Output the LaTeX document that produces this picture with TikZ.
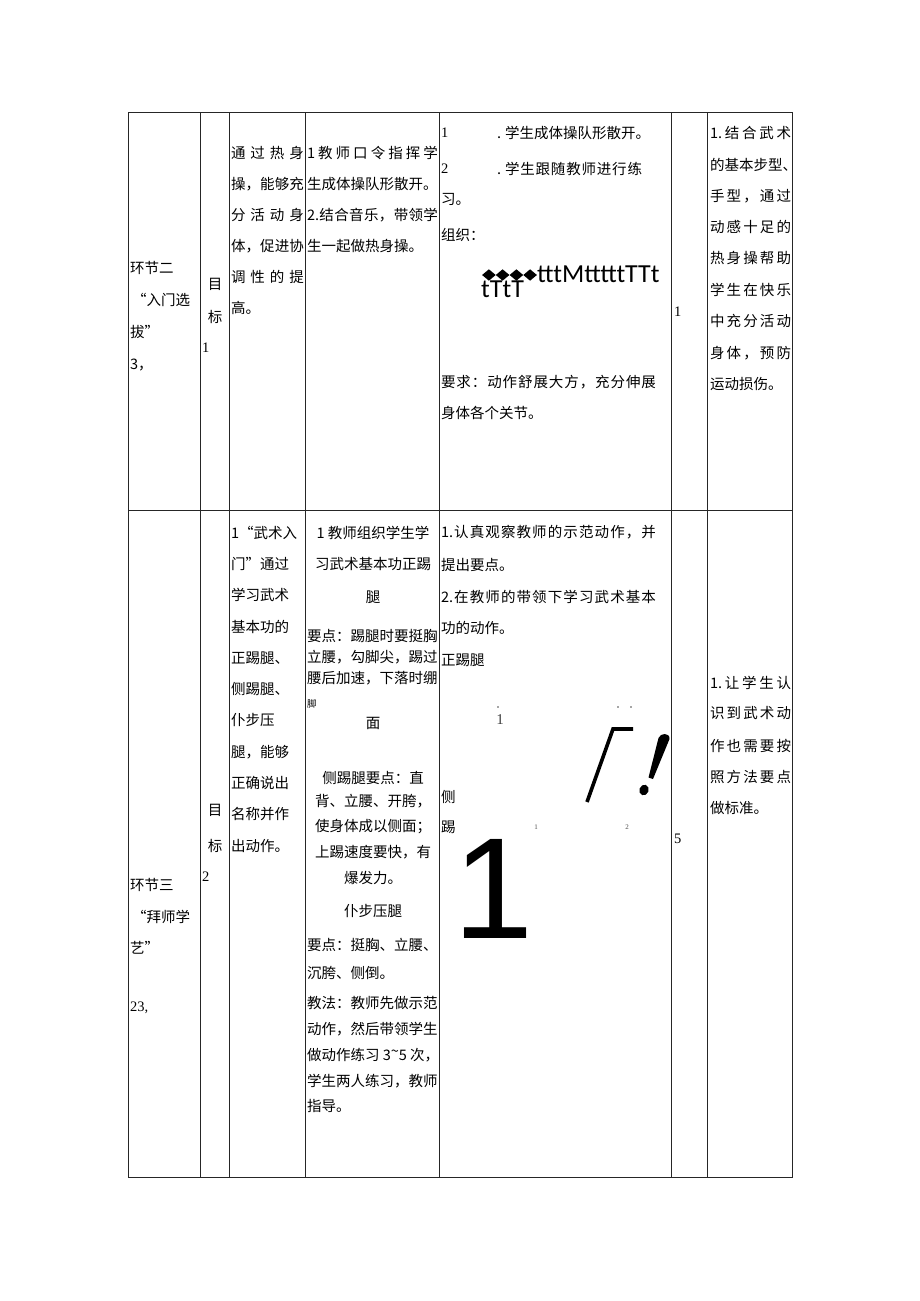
\documentclass[tikz,border=0pt]{standalone}
\usepackage{fontspec}
\setmainfont{Liberation Serif}
\newfontfamily\cjk{Noto Sans CJK SC}
\newfontfamily\carl{Carlito}
\newfontfamily\lsans{Liberation Sans}
\newcommand\cjkf{\cjk\fontsize{14.5}{14.5}\selectfont}
\def\mygob#1{}
\def\sprdA#1{#1\futurelet\nxt\sprdB}
\def\sprdB{\ifx\nxt\relax\expandafter\mygob\else\hfil\expandafter\sprdA\fi}
\newcommand\sprd[2]{\hbox to #1{\sprdA#2\relax}}
\tikzset{
  t/.style={anchor=base west, inner sep=0pt, outer sep=0pt, font=\cjkf, yshift=-5.5pt},
  tc/.style={anchor=base, inner sep=0pt, outer sep=0pt, font=\cjkf, yshift=-5.5pt},
  dg/.style={anchor=base west, inner sep=0pt, outer sep=0pt, font=\fontsize{14.5}{14.5}\selectfont, yshift=-4.8pt},
  tiny/.style={anchor=base, inner sep=0pt, outer sep=0pt, font=\fontsize{7}{7}\selectfont, text=black!70},
  grid/.style={line width=0.9pt, draw=black!85},
}
\begin{document}
\begin{tikzpicture}[x=1pt,y=-1pt]
\useasboundingbox[fill=white] (0,0) rectangle (920,1301);
% table
\draw[grid] (128,112) rectangle (792,1177);
\foreach \xx in {200.5,229.5,305.5,439,671.5,707.5}
  \draw[grid] (\xx,112) -- (\xx,1177);
\draw[grid] (128,510.7) -- (792,510.7);

% ---------- row 1 ----------
\node[t] (a1) at (130,268) {环节二};
\node[t] (a2) at (132,300) {“入门选};
\node[t] (a3) at (130,332) {拔”};
\node[t] (a4) at (130,364) {3，};
\node[tc] (b1) at (215,284) {目};
\node[tc] (b2) at (215,317) {标};
\node[dg] (b3) at (202,348) {1};
\node[t] (c1) at (231,153) {\sprd{73pt}{通过热身}};
\node[t] (c2) at (231,184) {\sprd{73pt}{操，能够充}};
\node[t] (c3) at (231,215) {\sprd{73pt}{分活动身}};
\node[t] (c4) at (231,246) {\sprd{73pt}{体，促进协}};
\node[t] (c5) at (231,277) {\sprd{73pt}{调性的提}};
\node[t] (c6) at (231,308) {高。};
\node[t] (d1) at (307,153) {\sprd{131pt}{1教师口令指挥学}};
\node[t] (d2) at (307,184) {生成体操队形散开。};
\node[t] (d3) at (307,215) {\sprd{131pt}{{2.}结合音乐，带领学}};
\node[t] (d4) at (307,246) {生一起做热身操。};
\node[dg] (e1) at (441,133) {1};
\node[t] (e2) at (497,133) {.\hspace{4pt}学生成体操队形散开。};
\node[dg] (e3) at (441,169) {2};
\node[t] (e4) at (497,169) {.\hspace{4pt}\sprd{137pt}{学生跟随教师进行练}};
\node[t] (e5) at (441,199) {习。};
\node[t] (e6) at (441,235) {组织：};
\foreach \cx in {488.9,502.6,516.4,530.1}
  \fill ({\cx-6.8},275) -- (\cx,269.3) -- ({\cx+6.8},275) -- (\cx,280.7) -- cycle;
\node[anchor=base west, inner sep=0pt, font=\carl\fontsize{26}{26}\selectfont] (e7) at (537,282) {tttMtttttTTt};
\node[anchor=base west, inner sep=0pt, font=\carl\fontsize{26}{26}\selectfont] (e8) at (481,297) {tTtT};
\node[t] (e9) at (441,382) {\sprd{215pt}{要求：动作舒展大方，充分伸展}};
\node[t] (e10) at (441,413) {身体各个关节。};
\node[dg] (f1) at (674,312) {1};
\node[t] (g1) at (710,133) {\sprd{81pt}{{1.}结合武术}};
\node[t] (g2) at (710,165) {的基本步型、};
\node[t] (g3) at (710,196) {\sprd{81pt}{手型，通过}};
\node[t] (g4) at (710,227) {\sprd{81pt}{动感十足的}};
\node[t] (g5) at (710,258) {\sprd{81pt}{热身操帮助}};
\node[t] (g6) at (710,290) {\sprd{81pt}{学生在快乐}};
\node[t] (g7) at (710,321) {\sprd{81pt}{中充分活动}};
\node[t] (g8) at (710,353) {\sprd{81pt}{身体，预防}};
\node[t] (g9) at (710,384) {运动损伤。};

% ---------- row 2 ----------
\node[t] (h1) at (130,885) {环节三};
\node[t] (h2) at (132,917) {“拜师学};
\node[t] (h3) at (130,948) {艺”};
\node[dg] (h4) at (130,1007) {23,};
\node[tc] (i1) at (215,810) {目};
\node[tc] (i2) at (215,846) {标};
\node[dg] (i3) at (202,877) {2};
\node[t] (j1) at (231,533) {1“武术入};
\node[t] (j2) at (231,564) {门”通过};
\node[t] (j3) at (231,595) {学习武术};
\node[t] (j4) at (231,627) {基本功的};
\node[t] (j5) at (231,658) {正踢腿、};
\node[t] (j6) at (231,689) {侧踢腿、};
\node[t] (j7) at (231,720) {仆步压};
\node[t] (j8) at (231,752) {腿，能够};
\node[t] (j9) at (231,783) {正确说出};
\node[t] (j10) at (231,814) {名称并作};
\node[t] (j11) at (231,846) {出动作。};
\node[tc] (k1) at (373,533) {1 教师组织学生学};
\node[tc] (k2) at (373,564) {习武术基本功正踢};
\node[tc] (k3) at (373,597) {腿};
\node[t] (k4) at (307,636) {要点：踢腿时要挺胸};
\node[t] (k5) at (307,657) {立腰，勾脚尖，踢过};
\node[t] (k6) at (307,678) {腰后加速，下落时绷};
\node[anchor=base west, inner sep=0pt, font=\cjk\fontsize{9.5}{9.5}\selectfont, yshift=-3.6pt] (k7) at (307,704) {脚};
\node[tc] (k8) at (373,723) {面};
\node[tc] (k9) at (373,778) {侧踢腿要点：直};
\node[tc] (k10) at (373,801) {背、立腰、开胯，};
\node[tc] (k11) at (373,826) {使身体成以侧面；};
\node[tc] (k12) at (373,852) {上踢速度要快，有};
\node[tc] (k13) at (373,878) {爆发力。};
\node[tc] (k14) at (373,911) {仆步压腿};
\node[t] (k15) at (307,945) {要点：挺胸、立腰、};
\node[t] (k16) at (307,973) {沉胯、侧倒。};
\node[t] (k17) at (307,1003) {教法：教师先做示范};
\node[t] (k18) at (307,1029) {动作，然后带领学生};
\node[t] (k19) at (307,1055) {做动作练习 3\raisebox{.3em}{\string~}5 次，};
\node[t] (k20) at (307,1081) {学生两人练习，教师};
\node[t] (k21) at (307,1106) {指导。};
\node[t] (l1) at (441,532) {\sprd{215pt}{{1.}认真观察教师的示范动作，并}};
\node[t] (l2) at (441,565) {提出要点。};
\node[t] (l3) at (441,597) {\sprd{215pt}{{2.}在教师的带领下学习武术基本}};
\node[t] (l4) at (441,628) {功的动作。};
\node[t] (l5) at (441,660) {正踢腿};
\fill[black!70] (498,707) circle (0.9);
\fill[black!70] (618,707) circle (0.9);
\fill[black!70] (631,707) circle (0.9);
\node[anchor=base, inner sep=0pt, font=\fontsize{15}{15}\selectfont, text=black!75] (l6) at (500,724) {1};
\draw[line width=3.6pt, line join=miter] (587,802) -- (613,729) -- (633,729);
\fill (658.5,738) .. controls (660,733) and (670,732) .. (669.5,739) -- (653,779) -- (648.5,777.5) -- cycle;
\fill[rotate around={-20:(644,790)}] (644,790) ellipse (4.6 and 5.4);
\node[t] (l7) at (441,797) {侧};
\node[t] (l8) at (441,827) {踢};
\node[tiny] (l9) at (536,829) {1};
\node[tiny] (l10) at (627,829) {2};
\node[anchor=base west, inner sep=0pt, font=\lsans\fontsize{144}{144}\selectfont] (l11) at (453,938) {1};
\node[dg] (m1) at (674,839) {5};
\node[t] (n1) at (710,683) {\sprd{81pt}{{1.}让学生认}};
\node[t] (n2) at (710,713) {\sprd{81pt}{识到武术动}};
\node[t] (n3) at (710,746) {\sprd{81pt}{作也需要按}};
\node[t] (n4) at (710,777) {\sprd{81pt}{照方法要点}};
\node[t] (n5) at (710,808) {做标准。};
\end{tikzpicture}
\end{document}
